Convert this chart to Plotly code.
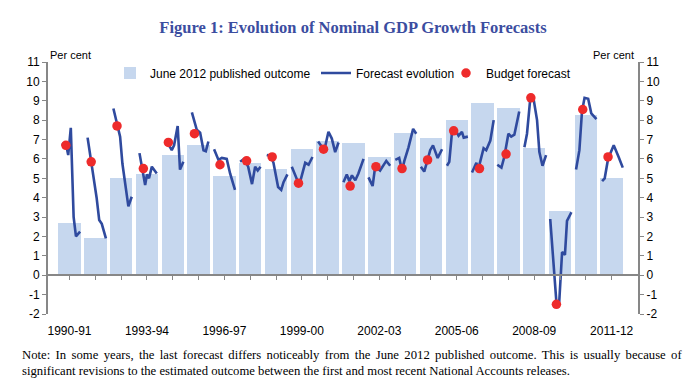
import plotly.graph_objects as go

# ---------------- data ----------------
years = ["1990-91", "1991-92", "1992-93", "1993-94", "1994-95", "1995-96", "1996-97",
         "1997-98", "1998-99", "1999-00", "2000-01", "2001-02", "2002-03", "2003-04",
         "2004-05", "2005-06", "2006-07", "2007-08", "2008-09", "2009-10", "2010-11",
         "2011-12"]

outcome = [2.7, 1.9, 5.0, 5.2, 6.2, 6.7, 5.1, 5.8, 5.5, 6.5, 6.9, 6.8, 6.1, 7.35,
           7.1, 8.0, 8.9, 8.65, 6.55, 3.3, 8.25, 5.0]

budget = [6.7, 5.85, 7.7, 5.5, 6.85, 7.3, 5.7, 5.9, 6.1, 4.75, 6.5, 4.6, 5.6, 5.5,
          5.95, 7.45, 5.5, 6.25, 9.15, -1.5, 8.55, 6.1]
# timing of the Budget forecast within each year's slot (fraction of a year from centre)
budget_timing = [-0.14, -0.16, -0.16, -0.14, -0.17, -0.16, -0.17, -0.14, -0.15, -0.13,
                 -0.16, -0.13, -0.13, -0.12, -0.13, -0.12, -0.12, -0.09, -0.13, -0.14,
                 -0.12, -0.14]

# forecast evolution: timing (fraction of a year from slot centre) and value
fc_timing = [
    [-0.30, -0.12, -0.05, 0.05, 0.16, 0.25, 0.41],
    [-0.30, -0.16, -0.08, 0.05, 0.15, 0.25, 0.41],
    [-0.30, -0.11, -0.04, 0.05, 0.15, 0.28, 0.41],
    [-0.29, -0.07, 0.00, 0.08, 0.19, 0.38],
    [-0.23, -0.04, 0.05, 0.19, 0.28, 0.41],
    [-0.26, -0.07, 0.06, 0.19, 0.28, 0.38],
    [-0.40, -0.23, -0.10, 0.09, 0.22, 0.41],
    [-0.39, -0.24, -0.08, 0.07, 0.19, 0.29, 0.40],
    [-0.36, -0.20, -0.10, 0.08, 0.20, 0.29, 0.44],
    [-0.39, -0.22, -0.13, -0.07, 0.13, 0.26, 0.41],
    [-0.37, -0.22, -0.13, 0.03, 0.16, 0.29, 0.42],
    [-0.39, -0.26, -0.16, -0.06, 0.07, 0.19, 0.39],
    [-0.42, -0.26, -0.16, 0.03, 0.27, 0.42],
    [-0.38, -0.23, -0.12, -0.03, 0.13, 0.31, 0.43],
    [-0.39, -0.26, -0.13, -0.03, 0.08, 0.26, 0.43],
    [-0.38, -0.29, -0.19, -0.06, 0.07, 0.20, 0.27, 0.43],
    [-0.41, -0.24, -0.17, 0.04, 0.14, 0.30, 0.43],
    [-0.43, -0.27, -0.16, 0.00, 0.11, 0.23, 0.42],
    [-0.38, -0.28, -0.15, -0.02, 0.11, 0.20, 0.32, 0.46],
    [-0.38, -0.14, -0.03, 0.08, 0.19, 0.27, 0.44],
    [-0.38, -0.25, -0.15, -0.05, 0.09, 0.21, 0.41],
    [-0.37, -0.27, -0.14, 0.08, 0.27, 0.43],
]
fc_values = [
    [6.8, 6.65, 6.2, 7.6, 3.0, 2.0, 2.25],
    [7.1, 5.9, 5.25, 4.0, 2.85, 2.65, 1.9],
    [8.6, 7.65, 7.15, 5.75, 4.9, 3.55, 4.05],
    [6.3, 4.65, 5.2, 5.0, 5.6, 5.25],
    [6.9, 6.45, 6.7, 7.7, 5.45, 5.85],
    [8.4, 7.5, 7.35, 6.45, 6.4, 6.9],
    [6.5, 5.95, 6.05, 6.0, 5.25, 4.4],
    [5.85, 6.0, 5.6, 4.7, 5.6, 5.4, 5.6],
    [6.2, 6.15, 5.8, 4.55, 4.4, 4.8, 5.2],
    [5.6, 5.0, 4.75, 4.8, 5.8, 5.7, 6.1],
    [6.9, 6.6, 6.45, 7.4, 7.05, 6.35, 6.85],
    [4.8, 5.2, 4.85, 5.15, 4.9, 5.25, 6.0],
    [5.05, 4.6, 5.6, 5.4, 5.9, 5.65],
    [5.95, 6.05, 5.4, 5.9, 6.6, 7.55, 7.3],
    [5.6, 5.35, 5.95, 6.45, 6.7, 6.05, 6.5],
    [5.65, 5.85, 7.3, 7.5, 7.2, 7.4, 7.1, 7.15],
    [5.3, 5.8, 5.45, 6.55, 6.45, 6.95, 8.0],
    [5.7, 5.55, 6.1, 7.3, 7.15, 7.25, 8.45],
    [6.6, 7.3, 9.15, 9.05, 8.0, 6.35, 5.65, 6.2],
    [2.9, -1.4, -1.35, 1.2, 1.05, 2.8, 3.25],
    [5.45, 6.45, 8.45, 9.15, 9.1, 8.35, 8.05],
    [4.85, 5.0, 6.0, 6.7, 6.1, 5.55],
]

y_ticks = list(range(-2, 12))
y_ticktext = [str(v) for v in y_ticks]
label_every = 3

# ---------------- build ----------------
idx = list(range(len(years)))

fx, fy = [], []
for i, (ts, vs) in enumerate(zip(fc_timing, fc_values)):
    fx += [i + t for t in ts] + [None]
    fy += vs + [None]

bx = [i + t for i, t in zip(idx, budget_timing)]

BAR = "#C6D7EE"
LINE = "#2F4A9E"
DOT = "#EE2B2B"
AXIS = "#878787"
FONT = "Liberation Sans, Arial, sans-serif"
SERIF = "Liberation Serif, Times New Roman, serif"

L, R, T, B = 48, 60, 62, 73
W, H = 698, 387
PW, PH = W - L - R, H - T - B


def px_x(p):
    return (p - L) / PW


def px_y(p):
    return 1 - (p - T) / PH


fig = go.Figure()
fig.add_trace(go.Bar(x=idx, y=outcome, width=0.87, marker=dict(color=BAR, line=dict(width=0)),
                     name="June 2012 published outcome", legend="legend"))
fig.add_trace(go.Scatter(x=fx, y=fy, mode="lines", line=dict(color=LINE, width=2.6),
                         connectgaps=False, name="Forecast evolution", legend="legend2"))
fig.add_trace(go.Scatter(x=bx, y=budget, mode="markers",
                         marker=dict(color=DOT, size=9.5, line=dict(width=0)),
                         name="Budget forecast", legend="legend3"))

x_range = [-0.833, 22.02]
y_range = [-2, 11]
zero_pos = (0 - y_range[0]) / (y_range[1] - y_range[0])

leg_common = dict(orientation="h", xanchor="left", yanchor="middle", y=px_y(73),
                  font=dict(size=12), bgcolor="rgba(0,0,0,0)")

fig.update_layout(
    width=W, height=H,
    margin=dict(l=L, r=R, t=T, b=B, pad=0, autoexpand=False),
    paper_bgcolor="white", plot_bgcolor="white",
    font=dict(family=FONT, size=12, color="black"),
    showlegend=True,
    legend=dict(x=px_x(110), **leg_common),
    legend2=dict(x=px_x(316), **leg_common),
    legend3=dict(x=px_x(446), **leg_common),
    title=dict(text="Figure 1: Evolution of Nominal GDP Growth Forecasts",
               font=dict(family=SERIF, size=16.5, color="#3B4DA0", weight=700),
               x=353 / W, xref="container", xanchor="center", y=1 - 27 / H,
               yref="container", yanchor="middle", automargin=False),
    bargap=0,
    xaxis=dict(range=x_range, tickmode="array", automargin=False,
               tickvals=idx[::label_every], ticktext=years[::label_every],
               showline=False, showgrid=False, zeroline=False, ticks="",
               tickfont=dict(size=12), ticklabelstandoff=8),
    xaxis2=dict(range=x_range, overlaying="x", anchor="free", position=zero_pos,
                side="bottom", tickmode="array", tickvals=idx, showticklabels=False,
                showline=True, linecolor=AXIS, linewidth=2, ticks="outside",
                ticklen=4, tickwidth=1, tickcolor=AXIS, showgrid=False, zeroline=False,
                automargin=False),
    yaxis=dict(range=y_range, tickmode="array", tickvals=y_ticks, ticktext=y_ticktext,
               showline=True, linecolor=AXIS, linewidth=2, ticks="outside", ticklen=4,
               tickcolor=AXIS, showgrid=False, zeroline=False, tickfont=dict(size=12),
               automargin=False),
    yaxis2=dict(range=y_range, overlaying="y", side="right", tickmode="array",
                tickvals=y_ticks, ticktext=y_ticktext, showline=True, linecolor=AXIS,
                linewidth=2, ticks="outside", ticklen=4, tickcolor=AXIS,
                showgrid=False, zeroline=False, tickfont=dict(size=12), automargin=False),
)

# invisible anchor so the secondary axes are drawn
fig.add_trace(go.Scatter(x=[x_range[0]], y=[y_range[0]], xaxis="x2", yaxis="y2",
                         mode="markers", marker=dict(opacity=0), showlegend=False,
                         hoverinfo="skip"))

fig.add_annotation(text="Per cent", xref="paper", yref="paper", x=0.0, y=px_y(55),
                   xanchor="left", yanchor="middle", showarrow=False, font=dict(size=11))
fig.add_annotation(text="Per cent", xref="paper", yref="paper", x=px_x(636), y=px_y(55),
                   xanchor="right", yanchor="middle", showarrow=False, font=dict(size=11))

note1 = ("Note: In some years, the last forecast differs noticeably from the June 2012 "
         "published outcome. This is usually because of")
note2 = ("significant revisions to the estimated outcome between the first and most "
         "recent National Accounts releases.")
fig.add_annotation(text='<span style="word-spacing:2.2px">' + note1 + "</span>",
                   xref="paper", yref="paper", x=px_x(20), y=px_y(355),
                   xanchor="left", yanchor="middle", showarrow=False,
                   font=dict(family=SERIF, size=12.7))
fig.add_annotation(text=note2, xref="paper", yref="paper", x=px_x(20), y=px_y(371),
                   xanchor="left", yanchor="middle", showarrow=False,
                   font=dict(family=SERIF, size=12.7))

fig.write_html("out.html", config={"displayModeBar": False},
               post_script="document.body.style.margin='0';document.body.style.padding='0';")
